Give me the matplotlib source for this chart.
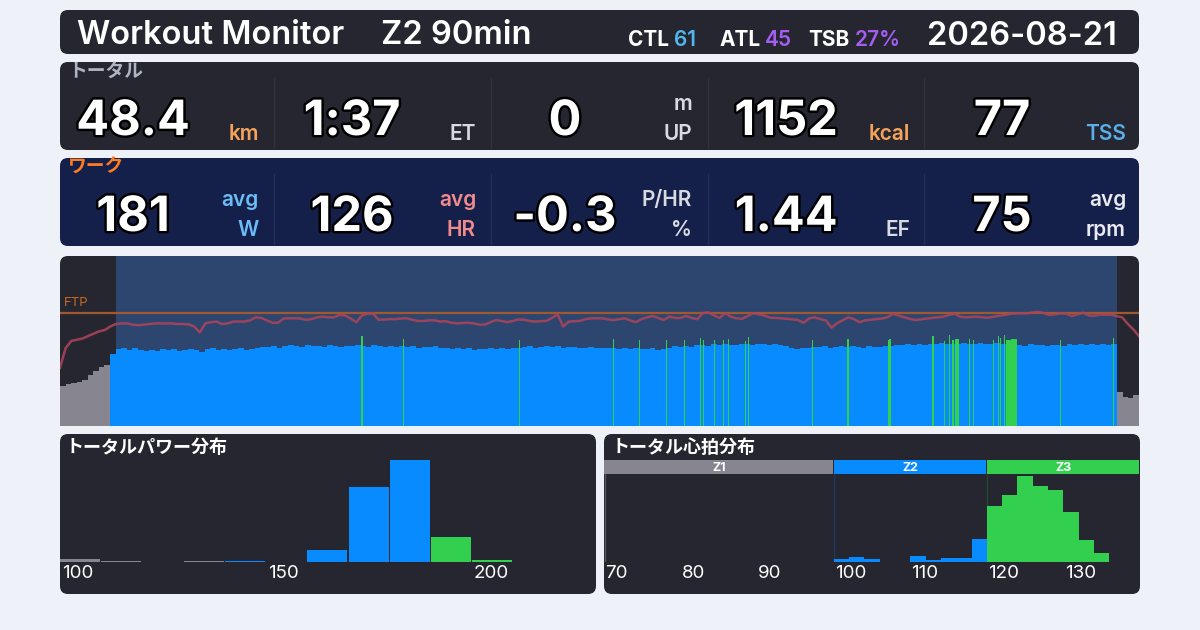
import numpy as np
import matplotlib
matplotlib.use('Agg')
import matplotlib.pyplot as plt
from matplotlib.patches import FancyBboxPatch, Rectangle
import matplotlib.patheffects as pe
from matplotlib.transforms import blended_transform_factory

plt.rcParams['font.family'] = ['Inter', 'Noto Sans CJK JP', 'DejaVu Sans']

# ---------------- data ----------------
title = "Workout Monitor"
workout_name = "Z2 90min"
load_labels = ["CTL", "ATL", "TSB"]
load_values = ["61", "45", "27%"]
date_str = "2026-08-21"

total_label = "トータル"
total_values = ["48.4", "1:37", "0", "1152", "77"]
total_units = [["km"], ["ET"], ["m", "UP"], ["kcal"], ["TSS"]]

work_label = "ワーク"
work_values = ["181", "126", "-0.3", "1.44", "75"]
work_units = [["avg", "W"], ["avg", "HR"], ["P/HR", "%"], ["EF"], ["avg", "rpm"]]

duration_min = 97
work_start_min = 5
work_end_min = 95
ftp_w = 260
power_zone_edges = [143, 195]

# power, 30 s samples
power_w = [92, 97, 99, 102, 106, 118, 126, 136, 141, 165,
           176, 179, 174, 178, 175,
           172, 175, 173, 176, 174, 177, 173, 175, 176,
           174, 170, 176, 178, 175, 177, 174, 176, 178, 175, 177, 179,
           182, 181, 184, 180, 183, 185,
           184, 182, 185, 183, 184, 181, 185, 183, 182, 184, 183, 185,
           184, 182, 185, 183, 181, 184,
           182, 184, 181, 183, 180, 182, 181, 183, 179, 178, 177, 178,
           176, 178, 175, 177, 176, 178,
           177, 179, 176, 178, 180,
           181, 183, 180, 182, 184, 181, 183, 180, 182, 181,
           180, 178, 181, 179, 180, 178, 179,
           177, 179, 176, 178, 177,
           176, 178, 175, 177, 179,
           183, 181, 184, 182, 185,
           186, 184, 187, 185, 188, 186, 185, 187, 188, 186, 189, 187,
           186, 188, 185, 183,
           178, 176, 179, 180,
           182, 181, 183, 180, 182, 184, 181, 183, 182, 180, 183, 181, 182, 184, 183,
           186, 185, 187, 186, 188, 185, 187,
           188, 190, 187, 189, 188, 190, 189, 187, 190, 188, 189, 190, 188,
           198, 199,
           186, 184, 187, 185, 186, 183, 186, 185, 184, 187, 185,
           187, 186, 188, 185, 187, 186, 188,
           78, 66, 64, 72]

# short bursts (minute, watts, duration in minutes)
burst_min = [27.15, 30.89, 41.33, 49.79, 52.13, 54.56, 56.18, 57.61, 57.88, 58.87,
             59.68, 60.13, 61.66, 61.90, 67.64, 70.84, 74.48, 74.62, 78.50, 79.48,
             79.93, 80.31, 80.65, 81.73, 82.09, 83.89, 84.34, 84.58, 84.88, 89.92,
             94.69]
burst_w = [206, 200, 197, 200, 197, 197, 197, 201, 197, 197,
           197, 199, 196, 205, 197, 199, 197, 199, 207, 196,
           209, 197, 199, 199, 197, 197, 207, 202, 209, 197,
           201]
burst_dur_min = [0.1, 0.1, 0.1, 0.1, 0.1, 0.1, 0.1, 0.1, 0.1, 0.1,
                 0.1, 0.1, 0.1, 0.1, 0.1, 0.1, 0.1, 0.1, 0.2, 0.1,
                 0.1, 0.2, 0.3, 0.1, 0.1, 0.1, 0.1, 0.1, 0.1, 0.1,
                 0.1]

# heart rate, 30 s samples
hr_bpm = [88, 104, 110, 111, 112, 114, 116, 118, 119, 122,
          124, 124.5, 124.5, 123.5, 123, 123.5, 124, 124.5, 124.5, 124.5,
          124.5, 124, 124, 123.7, 122, 117, 124.6, 125.5, 126, 124,
          124.5, 126, 126, 126, 127, 129.5, 129, 127, 125, 125,
          128.5, 128.7, 128.7, 128.5, 127.5, 128, 129.5, 130, 129.5, 129.5,
          131.5, 131, 128.5, 125.5, 131, 132.5, 132.5, 127.5, 127.7, 128,
          128, 128.5, 128.7, 127.5, 126.5, 126.5, 127, 127, 126, 126.3,
          125, 124.6, 124.8, 125, 124.5, 123.5, 123.5, 125.5, 127.3, 126.5,
          125.5, 126.5, 127.8, 127.5, 126.5, 126, 126.3, 126.6, 129, 132,
          122, 126, 126.3, 126.6, 128, 128.7, 128.7, 128.7, 127.8, 127.3,
          128, 128.7, 127, 125.5, 128, 129.5, 130.6, 129, 127.3, 130,
          129, 129, 130.6, 129, 128, 133, 133.6, 131, 129, 133,
          130, 128.7, 128.3, 130.5, 133, 132, 131, 129.2, 129, 128.7,
          128.3, 127.8, 127.3, 125, 128.7, 129.5, 128, 127, 121, 124.6,
          127, 129.5, 128, 125.5, 127, 127.5, 128, 128.5, 129.5, 132.5,
          131, 129.5, 128.3, 127.3, 127.8, 128.5, 129, 129.5, 130, 131.5,
          132.5, 130, 129.5, 129.8, 130, 129.5, 129.2, 130, 130.8, 131.4,
          132.3, 132.8, 132.8, 132.8, 133.5, 134, 133, 131.4, 132, 132.8,
          132.5, 130.5, 132, 133.3, 131, 130.8, 131.7, 131.7, 131.7, 130.5,
          129.5, 124, 119.5, 114]

# power distribution (10 W bins, % of time)
pw_title = "トータルパワー分布"
pw_bin_start = [100, 110, 130, 140, 160, 170, 180, 190, 200]
pw_pct = [1.2, 0.45, 0.45, 0.45, 5.4, 33.8, 46.0, 11.3, 0.9]
pw_ticks = [100, 150, 200]

# heart-rate distribution (2 bpm bins, minutes)
hr_title = "トータル心拍分布"
hr_bin_start = [100, 102, 104, 106, 108, 110, 112, 114, 116, 118,
                120, 122, 124, 126, 128, 130, 132, 134]
hr_minutes = [0.53, 0.94, 0.53, 0.07, 0.07, 1.14, 0.33, 0.73, 0.73, 4.54,
              11.16, 13.36, 17.17, 15.16, 14.36, 10.02, 4.34, 1.80]
hr_zone_names = ["Z1", "Z2", "Z3"]
hr_zone_lo = [70, 100, 120]
hr_zone_hi = [100, 120, 140]
hr_ticks = [70, 80, 90, 100, 110, 120, 130]

# ---------------- style ----------------
BG = '#eff1f8'
PANEL = '#252630'
NAVY = '#15204a'
GRAY = '#878690'
BLUE = '#078bff'
GREEN = '#33d04f'
WHITE = '#ffffff'

W, H = 1200, 630
fig = plt.figure(figsize=(12, 6.3), dpi=100)
fig.patch.set_facecolor(BG)
bg = fig.add_axes([0, 0, 1, 1])
bg.set_xlim(0, W)
bg.set_ylim(H, 0)
bg.axis('off')


def px_axes(x, y, w, h):
    a = fig.add_axes([x / W, 1 - (y + h) / H, w / W, h / H])
    a.set_facecolor('none')
    return a


def panel(x, y, w, h, color, r=8):
    bg.add_patch(FancyBboxPatch((x, y), w, h,
                                boxstyle=f"round,pad=0,rounding_size={r}",
                                fc=color, ec='none', zorder=0))


outline = [pe.withStroke(linewidth=3.5, foreground='#000000')]

# ---------------- header ----------------
panel(60, 10, 1079, 44, PANEL)
bg.text(77, 44, title, color=WHITE, fontsize=23.5, fontweight='semibold', va='baseline')
bg.text(381, 44, workout_name, color=WHITE, fontsize=23.5, fontweight='semibold', va='baseline')
load_colors = ['#4fb6f0', '#a65ef2', '#a65ef2']
lab_x = [628, 719, 808]
for lab, val, col, lx in zip(load_labels, load_values, load_colors, lab_x):
    lt = bg.text(lx, 46, lab, color=WHITE, fontsize=15, fontweight='bold', va='baseline')
    bg.annotate(val, xy=(1, 0), xycoords=lt, xytext=(5, 0), textcoords='offset pixels',
                color=col, fontsize=15, fontweight='semibold', va='bottom', ha='left')
bg.text(1117, 45, date_str, color=WHITE, fontsize=23.5, fontweight='semibold', va='baseline', ha='right')

# ---------------- stat rows ----------------
num_cx = [133, 352, 565, 786, 1002]
unit_rx = [259, 476, 692, 910, 1126]
col_div = [274, 491, 708, 924]


def stat_row(top, color, label, label_color, values, units, unit_colors, div_color):
    panel(60, top, 1079, 88, color)
    bg.text(68, top + 10, label, color=label_color, fontsize=13.5, fontweight='bold', va='center')
    for d in col_div:
        bg.plot([d, d], [top + 16, top + 86], color=div_color, lw=1, zorder=1)
    base = top + 73
    for v, cx, un, ux, uc in zip(values, num_cx, units, unit_rx, unit_colors):
        bg.text(cx, base, v, color=WHITE, fontsize=35, fontweight='bold',
                ha='center', va='baseline', path_effects=outline, zorder=3)
        if len(un) == 2:
            bg.text(ux, base - 25, un[0], color=uc, fontsize=15, fontweight='semibold', ha='right', va='baseline')
            bg.text(ux, base + 5, un[1], color=uc, fontsize=15, fontweight='semibold', ha='right', va='baseline')
        else:
            bg.text(ux, base + 5, un[0], color=uc, fontsize=15, fontweight='semibold', ha='right', va='baseline')


stat_row(62, PANEL, total_label, '#b0b4c2', total_values, total_units,
         ['#f5a35c', '#d9dbe2', '#d9dbe2', '#f5a35c', '#5aaeea'], '#30313c')
stat_row(158, NAVY, work_label, '#ff7d1f', work_values, work_units,
         ['#6cbcf6', '#f28c8c', '#d9dbe2', '#d9dbe2', '#e8eaf0'], '#222e5a')


def zone_color(p):
    if p < power_zone_edges[0]:
        return GRAY
    if p < power_zone_edges[1]:
        return BLUE
    return GREEN


# ---------------- main chart ----------------
panel(60, 256, 1079, 170, PANEL)
ax = px_axes(60, 256, 1079, 170)
ax.set_xlim(0, duration_min)
ax.set_ylim(0, ftp_w * 1.5)
ax.axvspan(work_start_min, work_end_min, color='#2c4670', lw=0, zorder=0)
t = np.arange(len(power_w)) * 0.5
ax.bar(t, power_w, width=0.52, align='edge', color=[zone_color(p) for p in power_w],
       lw=0, zorder=2)
ax.bar(burst_min, burst_w, width=burst_dur_min, color=GREEN, lw=0, zorder=3)
ax.axhline(ftp_w, color='#a0582e', lw=1.6, zorder=4)
ax.text(0.35, ftp_w + 8, 'FTP', color='#c8691f', fontsize=9.5, va='bottom', zorder=5)
ax.axis('off')
ax2 = ax.twinx()
ax2.set_ylim(40, 180)
ax2.plot(np.linspace(0, duration_min, len(hr_bpm)), hr_bpm, color='#a8445a', lw=1.8, alpha=0.9)
ax2.axis('off')

# ---------------- power histogram ----------------
panel(60, 434, 536, 160, PANEL)
bg.text(66, 448, pw_title, color=WHITE, fontsize=13, fontweight='bold', va='center')
axp = px_axes(60, 455, 536, 107)
axp.set_xlim(100, 230)
axp.set_ylim(0, 48.3)
axp.bar(pw_bin_start, pw_pct, width=9.7, align='edge',
        color=[zone_color(b + 5) for b in pw_bin_start], lw=0)
axp.axis('off')
trp = blended_transform_factory(axp.transData, bg.transData)
for v in pw_ticks:
    axp.text(v + 0.4, 573, str(v), transform=trp, color=WHITE, fontsize=13.5,
             ha='left', va='center')

# ---------------- heart-rate histogram ----------------
panel(604, 434, 536, 160, PANEL)
bg.text(612, 448, hr_title, color=WHITE, fontsize=13, fontweight='bold', va='center')
axz = px_axes(604, 460, 536, 14)
axz.set_xlim(70, 140)
axz.set_ylim(0, 1)
zone_cols = [GRAY, BLUE, GREEN]
for name, lo, hi, zc in zip(hr_zone_names, hr_zone_lo, hr_zone_hi, zone_cols):
    axz.add_patch(Rectangle((lo, 0), hi - lo - 0.1, 1, fc=zc, ec='none'))
    axz.text((lo + hi) / 2, 0.45, name, color=WHITE, fontsize=9, fontweight='bold',
             ha='center', va='center')
axz.axis('off')

axh = px_axes(604, 474, 536, 88)
axh.set_xlim(70, 140)
axh.set_ylim(0, max(hr_minutes) * 1.025)


def hr_color(b):
    for lo, hi, zc in zip(hr_zone_lo, hr_zone_hi, zone_cols):
        if lo <= b < hi:
            return zc
    return GREEN


axh.axvline(70.1, color='#55555f', lw=1)
axh.axvline(hr_zone_lo[1], color='#1b3a60', lw=1)
axh.axvline(hr_zone_lo[2], color='#1f4a34', lw=1)
axh.bar(hr_bin_start, hr_minutes, width=2, align='edge',
        color=[hr_color(b) for b in hr_bin_start], lw=0, zorder=2)
axh.axis('off')
trh = blended_transform_factory(axh.transData, bg.transData)
for v in hr_ticks:
    axh.text(v + 0.15, 573, str(v), transform=trh, color=WHITE, fontsize=13.5,
             ha='left', va='center')

fig.savefig('out.png', dpi=100, facecolor=BG)
